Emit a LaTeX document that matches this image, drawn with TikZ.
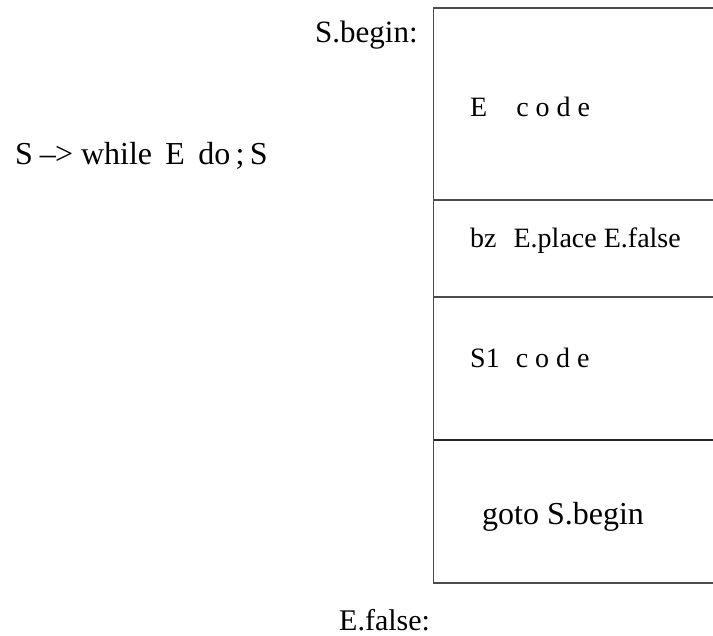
\documentclass[tikz,border=0pt]{standalone}
\usepackage{fontspec}
\setmainfont{Liberation Serif}
\begin{document}
\begin{tikzpicture}[x=1pt,y=-1pt,
  rule/.style={draw=black!70,line width=1.6pt},
  big/.style={inner sep=0pt,anchor=base west,font=\fontsize{31}{36}\selectfont},
  cell/.style={inner sep=0pt,anchor=base west,font=\fontsize{28}{32}\selectfont}]
\useasboundingbox (0,0) rectangle (713,636);
% frame of the code layout (open on the right)
\coordinate (tl) at (433.5,8);
\coordinate (tr) at (713,8);
\coordinate (bl) at (433.5,583);
\coordinate (br) at (713,583);
\draw[rule] (tr) -- (tl) -- (bl) -- (br);
\draw[rule] (433.5,200) -- (713,200);
\draw[rule] (433.5,297) -- (713,297);
\draw[rule,draw=black!85] (433.5,440) -- (713,440);
% labels
\node[big,font=\fontsize{32}{36}\selectfont] (prod) at (15,165) {S \kern-1pt--\kern-1pt> while\, E\, do\,;\,S};
\node[big] (sbegin) at (315,43) {S.begin:};
\node[big,font=\fontsize{30}{34}\selectfont] (efalse) at (339,630) {E.false:};
\node[cell] (ecode) at (470,117) {E\hspace{29pt}c o d e};
\node[cell] (bz) at (470,248) {bz\hspace{17pt}E.place E.false};
\node[cell] (scode) at (470,368) {S1\hspace{16pt}c o d e};
\node[cell,font=\fontsize{32}{36}\selectfont] (gotob) at (482,525) {goto S.begin};
\end{tikzpicture}
\end{document}
